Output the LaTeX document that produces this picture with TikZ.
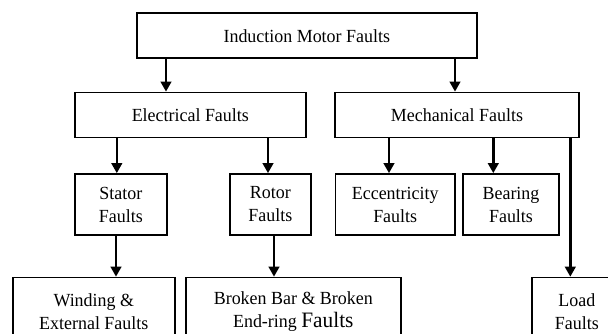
\documentclass[tikz,border=0pt]{standalone}
\usepackage{fontspec}
\newfontfamily\narrowserif[FakeStretch=0.97]{Liberation Serif}
\usetikzlibrary{arrows.meta}

\begin{document}
\begin{tikzpicture}[x=1pt,y=-1pt,
  faultbox/.style={draw, line width=1.7pt, align=center, inner sep=0pt,
    font=\narrowserif\fontsize{18.5}{23}\selectfont},
  arr/.style={line width=2.4pt, -{Triangle[width=10.5pt,length=10pt]}}]
\path[use as bounding box] (0,0) rectangle (608,333);
\clip (0,0) rectangle (608,333);

% Top level
\node[faultbox, minimum width=340pt, minimum height=45pt] (motor) at (306.8,35.8) {Induction Motor Faults};

% Second level
\node[faultbox, minimum width=230.7pt, minimum height=45pt] (elec) at (190.3,115) {Electrical Faults};
\node[faultbox, minimum width=244pt, minimum height=45pt] (mech) at (457,115) {Mechanical Faults};

% Third level
\node[faultbox, minimum width=91.7pt, minimum height=61pt] (stator) at (120.8,204.5) {Stator\\Faults};
\node[faultbox, minimum width=80.7pt, minimum height=61pt] (rotor) at (270.3,204.5) {Rotor\\Faults};
\node[faultbox, minimum width=119.5pt, minimum height=61pt] (ecc) at (395.2,204.5) {Eccentricity\\Faults};
\node[faultbox, minimum width=96.6pt, minimum height=61pt] (bearing) at (511,204.5) {Bearing\\Faults};

% Bottom level (runs past the lower edge)
\node[faultbox, minimum width=162.3pt, minimum height=68pt, anchor=north] (winding) at (93.8,276.7) {Winding \&\\External Faults};
\node[faultbox, minimum width=214.7pt, minimum height=68pt, anchor=north] (broken) at (293.3,276.7) {Broken Bar \& Broken\\End-ring {\fontsize{22}{23}\selectfont Faults}};
\node[faultbox, minimum width=90pt, minimum height=68pt, anchor=north] (load) at (576.8,276.7) {Load\\Faults};

% Connectors
\draw[arr] ([xshift=-24.3pt]elec.north |- motor.south) -- ([xshift=-24.3pt]elec.north);
\draw[arr] ([xshift=-2pt]mech.north |- motor.south) -- ([xshift=-2pt]mech.north);
\draw[arr] ([xshift=-4pt]stator.north |- elec.south) -- ([xshift=-4pt]stator.north);
\draw[arr] ([xshift=-2.3pt]rotor.north |- elec.south) -- ([xshift=-2.3pt]rotor.north);
\draw[arr] ([xshift=-6.2pt]ecc.north |- mech.south) -- ([xshift=-6.2pt]ecc.north);
\draw[arr] ([xshift=-17.7pt]bearing.north |- mech.south) -- ([xshift=-17.7pt]bearing.north);
\draw[arr] ([xshift=-6.5pt]load.north |- mech.south) -- ([xshift=-6.5pt]load.north);
\draw[arr] ([xshift=-4.8pt]stator.south) -- ([xshift=-4.8pt]winding.north -| stator.south);
\draw[arr] ([xshift=3.7pt]rotor.south) -- ([xshift=3.7pt]broken.north -| rotor.south);
\end{tikzpicture}
\end{document}
